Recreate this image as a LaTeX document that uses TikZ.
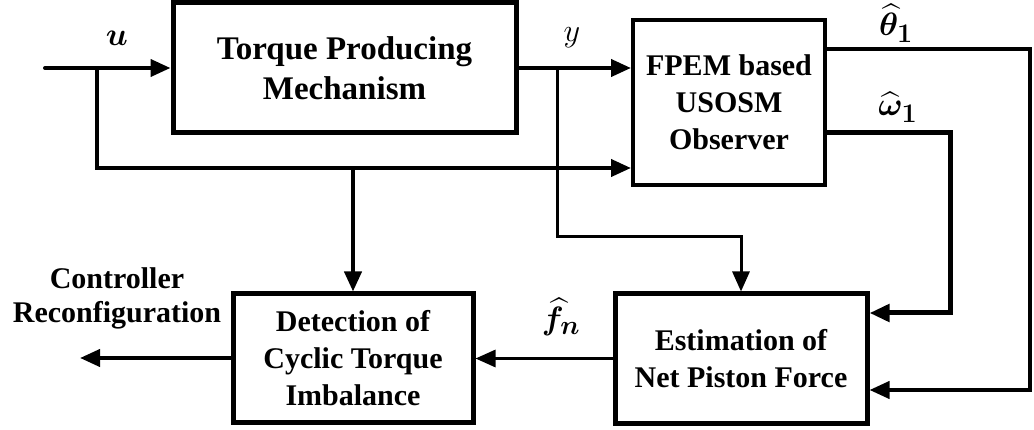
\RequirePackage{fix-cm}
\documentclass[tikz,border=0pt]{standalone}
\usepackage{amsmath}
\usepackage{bm}
\usepackage{fontspec}
\setmainfont{Liberation Serif}
\usetikzlibrary{arrows.meta}
\tikzset{
  blk/.style={draw, line width=5pt, inner sep=0pt, align=center, font=\fontsize{30}{37}\selectfont\bfseries},
  obsblk/.style={blk, line width=4pt},
  wire/.style={line width=4pt},
  thinwire/.style={line width=3pt},
  arr/.style={-{Triangle[length=20pt,width=17pt]}},
  lbl/.style={inner sep=0pt, font=\fontsize{24.88}{30}\selectfont, scale=1.3},
}
\begin{document}
\begin{tikzpicture}[x=1pt,y=-1pt]
\useasboundingbox (0,0) rectangle (1034,430);
% blocks
\node[blk, minimum width=343pt, minimum height=130pt, font=\fontsize{33}{40}\selectfont\bfseries] (tpm) at (344.5,68) {Torque Producing\\Mechanism};
\node[obsblk, minimum width=192pt, minimum height=165pt] (obs) at (729,102.5) {FPEM based\\USOSM\\Observer};
\node[blk, minimum width=240pt, minimum height=128pt] (det) at (353,358) {Detection of\\Cyclic Torque\\Imbalance};
\node[blk, minimum width=252pt, minimum height=129pt] (est) at (741,358.5) {Estimation of\\Net Piston Force};
% coordinates
\coordinate (uin) at (45,68);
\coordinate (ub) at (97,68);
\coordinate (ul) at (97,168);
\coordinate (yb) at (557,68);
\coordinate (yc) at (557,237);
\coordinate (tr) at (1030,49);
\coordinate (tb) at (1030,390);
\coordinate (wr) at (950,133);
\coordinate (wb) at (950,313);
\coordinate (cout) at (80,358);
% connectors
\draw[wire, arr, line cap=round] (uin) -- (tpm.west);
\draw[wire, arr] (ub) -- (ul) -- (ul -| obs.west);
\draw[wire, arr] (ul -| det.north) -- (det.north);
\draw[wire, arr] (tpm.east) -- (tpm.east -| obs.west);
\draw[thinwire, arr] (yb) -- (yc) -| (est.north);
\draw[wire, arr] (obs.east |- tr) -- (tr) -- (tb) -- (tb -| est.east);
\draw[line width=5pt, arr] (obs.east |- wr) -- (wr) -- (wb) -- (wb -| est.east);
\draw[thinwire, arr] (est.west) -- (est.west -| det.east);
\draw[wire, arr] (det.west) -- (cout);
% labels
\node[lbl] (lu) at (117,38) {$\bm{u}$};
\node[lbl] (ly) at (572,38) {$y$};
\node[lbl] (lt) at (896,23) {$\bm{\widehat{\theta}_1}$};
\node[lbl] (lw) at (898,107) {$\bm{\widehat{\omega}_1}$};
\node[lbl] (lf) at (561,317) {$\bm{\widehat{f}_n}$};
\node[inner sep=0pt, align=center, font=\fontsize{30}{34}\selectfont\bfseries] (lc) at (117,298) {Controller\\Reconfiguration};
\end{tikzpicture}
\end{document}
